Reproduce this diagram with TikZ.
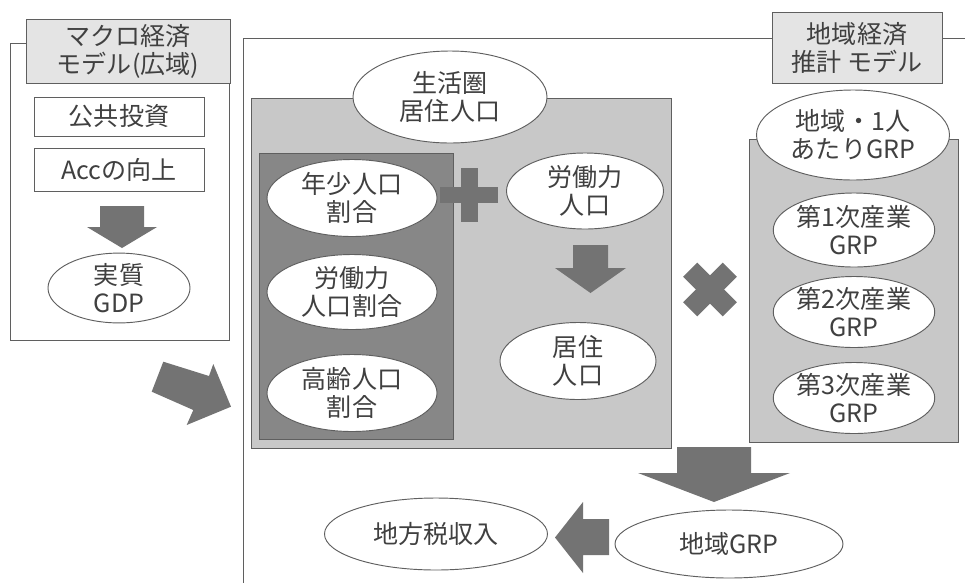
\documentclass[tikz,border=0pt]{standalone}
\usepackage{fontspec}
\setmainfont{Noto Sans CJK JP}
\usetikzlibrary{shapes.geometric}
\definecolor{txt}{RGB}{64,64,64}
\definecolor{arr}{RGB}{115,115,115}
\definecolor{lgray}{RGB}{200,200,200}
\definecolor{dgray}{RGB}{135,135,135}
\definecolor{tgray}{RGB}{228,228,228}
\definecolor{edge}{RGB}{95,95,95}
\begin{document}
\begin{tikzpicture}[x=0.75pt,y=-0.75pt,
  every node/.append style={font=\fontsize{18.8}{21}\selectfont, text=txt},
  oval/.style={ellipse, draw=edge, fill=white, inner sep=0pt, align=center, line width=0.7pt},
  rbox/.style={rectangle, draw=edge, fill=white, inner sep=0pt, align=center, line width=0.7pt},
  tbox/.style={rbox, fill=tgray},
  sz/.style 2 args={minimum width=#1, minimum height=#2},
  frame/.style={draw=edge, line width=0.7pt},
  blk/.style={fill=arr, draw=none}]
\useasboundingbox (0,0) rectangle (965,583);

% frames
\draw[frame] (965,38) -- (243,38) -- (243,583);
\draw[frame, fill=white] (10,43) rectangle (229,340);
\draw[frame, fill=lgray] (251,98) rectangle (671,448);
\draw[frame, fill=dgray] (259,153) rectangle (453,439);
\draw[frame, fill=lgray] (749,139) rectangle (958,442);

% left model
\node[tbox, sz={153pt}{48pt}] (macro) at (128,51) {マクロ経済\\モデル(広域)};
\node[rbox, sz={127.5pt}{29.25pt}] (inv) at (119,116.5) {公共投資};
\node[rbox, sz={127.5pt}{32.25pt}] (acc) at (119,169.5) {Accの向上};
\fill[blk] (100,206) -- (144,206) -- (144,227) -- (157,227) -- (122,248) -- (87,227) -- (100,227) -- cycle;
\node[oval, sz={106.5pt}{49.5pt}] (gdp) at (119,288) {実質\\GDP};

% diagonal arrow
\fill[blk] (163.3,361.7) -- (209,376) -- (213.3,364) -- (231,406.7) -- (186.7,425) -- (193.3,410) -- (151.7,391.7) -- cycle;

% regional title
\node[tbox, sz={127.5pt}{53.25pt}] (reg) at (857,47.5) {地域経済\\推計\hspace{0.25em}モデル};

% population block
\node[oval, sz={145.5pt}{69pt}] (pop) at (450,97) {生活圏\\居住人口};
\node[oval, sz={127.5pt}{57.75pt}] (young) at (352,198) {年少人口\\割合};
\node[oval, sz={127.5pt}{56.25pt}] (work) at (352,292) {労働力\\人口割合};
\node[oval, sz={127.5pt}{57.75pt}] (old) at (352,393) {高齢人口\\割合};
\fill[blk] (440,187) rectangle (498,203);
\fill[blk] (461,168) rectangle (478,222);
\node[oval, sz={117.75pt}{57pt}] (labor) at (585,191) {労働力\\人口};
\fill[blk] (573,245) -- (608,245) -- (608,268) -- (626,268) -- (590.5,293) -- (555,268) -- (573,268) -- cycle;
\node[oval, sz={117pt}{57.75pt}] (res) at (578,361) {居住\\人口};

% times
\fill[blk, rotate around={45:(710,289.5)}] (682,279.5) rectangle (738,299.5);
\fill[blk, rotate around={-45:(710,289.5)}] (682,279.5) rectangle (738,299.5);

% GRP block
\node[oval, sz={144.75pt}{67.5pt}] (per) at (853,135) {地域・1人\\あたりGRP};
\node[oval, sz={115.5pt}{55.5pt}] (g1) at (854,230) {第1次産業\\GRP};
\node[oval, sz={115.5pt}{53.25pt}] (g2) at (854,312) {第2次産業\\GRP};
\node[oval, sz={115.5pt}{53.25pt}] (g3) at (854,398) {第3次産業\\GRP};

% bottom
\fill[blk] (677,447) -- (751,447) -- (751,473) -- (790,473) -- (714,502) -- (638,473) -- (677,473) -- cycle;
\node[oval, sz={171pt}{51pt}] (grp) at (729,544) {地域GRP};
\fill[blk] (609,519) -- (583,519) -- (583,502) -- (555,537.5) -- (583,573) -- (583,555) -- (609,555) -- cycle;
\node[oval, sz={167.25pt}{54pt}] (tax) at (436,534) {地方税収入};
\end{tikzpicture}
\end{document}
